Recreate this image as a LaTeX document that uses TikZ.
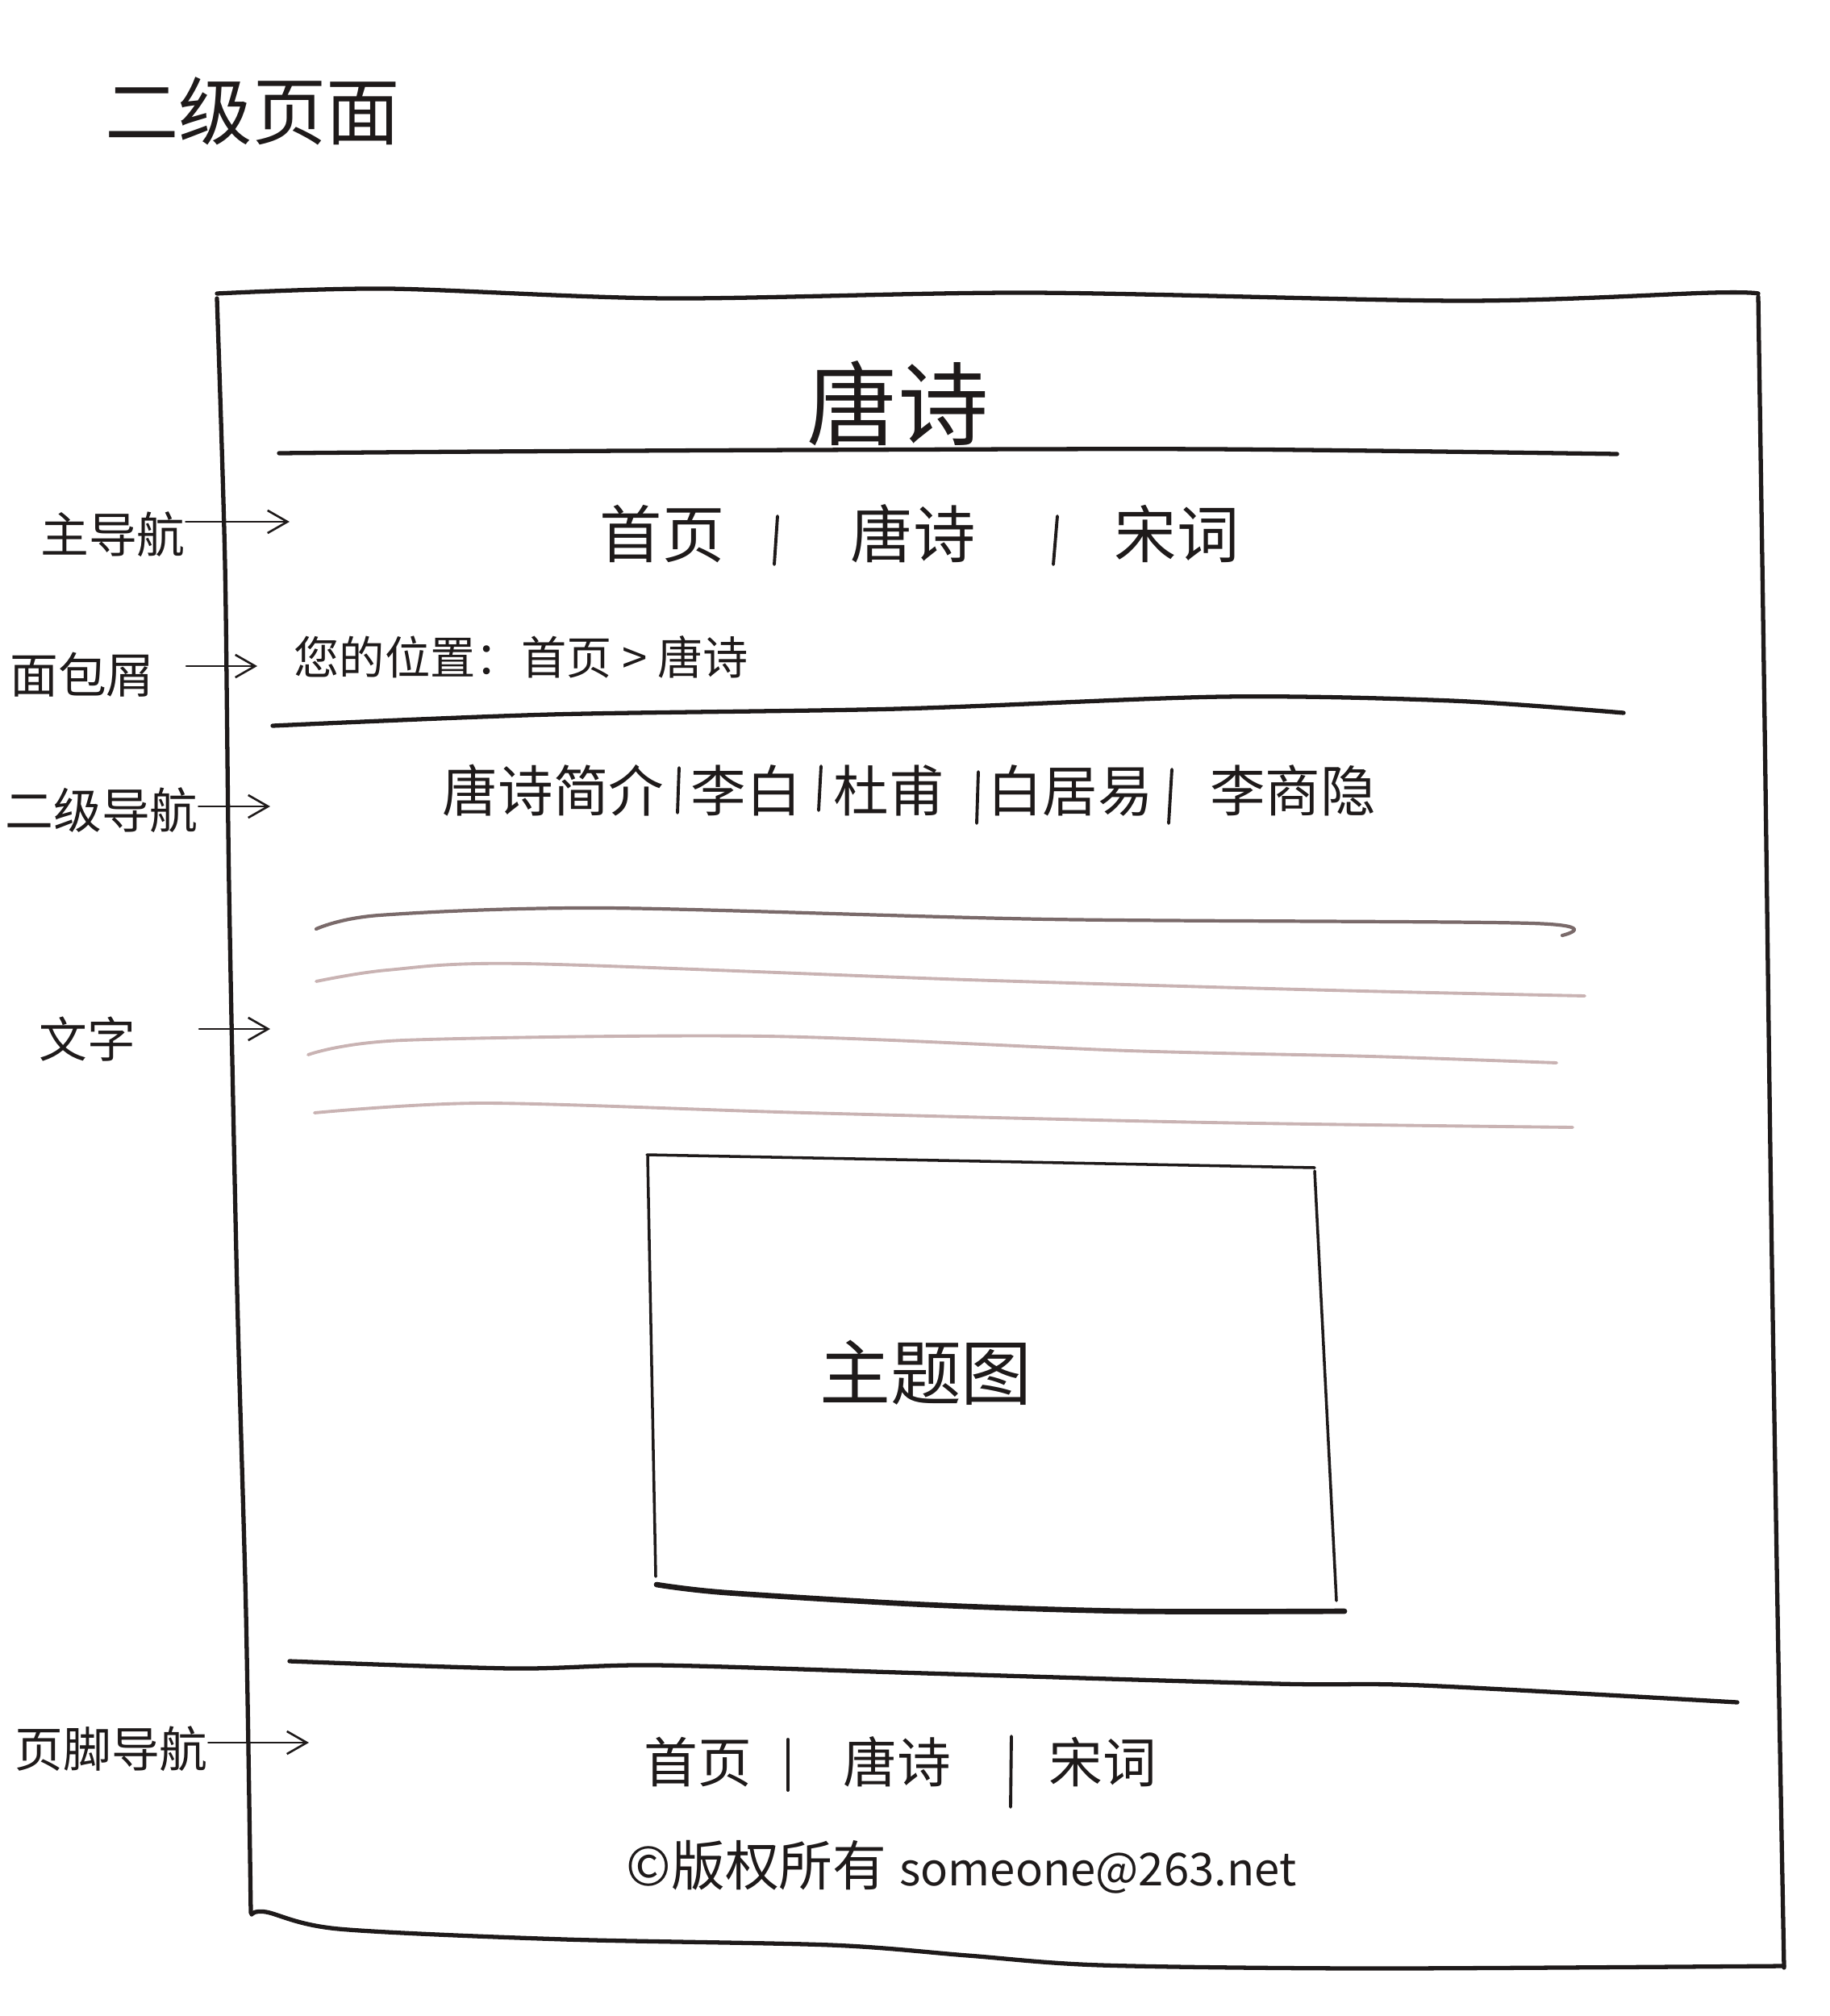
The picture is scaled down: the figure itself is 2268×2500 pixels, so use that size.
\documentclass[tikz,border=0pt]{standalone}
\usepackage{fontspec}
\setmainfont{Noto Sans CJK SC}
\usetikzlibrary{arrows.meta}
\definecolor{inkc}{HTML}{1E1A1A}
\definecolor{faintc}{HTML}{C9B3B3}
\definecolor{midc}{HTML}{7A6A6A}
\begin{document}
\begin{tikzpicture}[x=0.01cm,y=-0.01cm,
  ink/.style={draw=inkc, line width=1.5pt, line cap=round, line join=round},
  thinink/.style={draw=inkc, line width=0.75pt, line cap=round, line join=round},
  arr/.style={thinink, -{Straight Barb[length=7pt,width=8pt]}},
  sepbar/.style={draw=inkc, line width=1.1pt, line cap=round},
  faintline/.style={draw=faintc, line width=1.1pt, line cap=round},
  midline/.style={draw=midc, line width=1.2pt, line cap=round},
  txt/.style={inner sep=0pt, text=inkc},
  lbl/.style={txt, font=\fontsize{17}{20}\selectfont},
  navA/.style={txt, font=\fontsize{22}{26}\selectfont},
  navB/.style={txt, font=\fontsize{19.5}{23}\selectfont},
  navC/.style={txt, font=\fontsize{19}{22}\selectfont}]
\useasboundingbox[fill=white] (0,0) rectangle (2268,2500);

% page title
\node[txt, font=\fontsize{26}{30}\selectfont] (title) at (313,138) {二级页面};

% outer frame
\draw[ink] plot[smooth] coordinates {(269,364) (481,358) (827,370) (1276,363) (1814,373) (2122,363) (2180,364)};
\draw[ink] plot[smooth] coordinates {(269,370) (279,700) (284,1100) (294,1600) (305,2000) (311,2372)};
\draw[ink] plot[smooth] coordinates {(2180,368) (2188,900) (2196,1500) (2204,2000) (2212,2440)};
\draw[ink] plot[smooth] coordinates {(312,2374) (330,2371) (420,2392) (700,2405) (1030,2412) (1200,2425) (1365,2437) (1700,2441) (2212,2438)};

% header
\node[txt, font=\fontsize{32}{36}\selectfont] (site) at (1113,500) {唐诗};
\draw[ink] plot[smooth] coordinates {(346,562) (600,560) (1000,558) (1500,557) (2005,563)};

% main navigation
\node[navA] (nav1) at (821,662) {首页};
\draw[sepbar] (964,640) -- (960,700);
\node[navA] (nav2) at (1132,662) {唐诗};
\draw[sepbar] (1311,640) -- (1306,700);
\node[navA] (nav3) at (1459,662) {宋词};

% breadcrumb
\node[txt, anchor=west, font=\fontsize{16}{19}\selectfont] (crumb) at (364,815) {您的位置：首页 > 唐诗};
\draw[ink] plot[smooth] coordinates {(338,900) (683,886) (1113,879) (1515,864) (1800,869) (2013,884)};

% secondary navigation
\node[navB] (sub1) at (686,980) {唐诗简介};
\draw[sepbar] (842,952) -- (840,1008);
\node[navB] (sub2) at (925,980) {李白};
\draw[sepbar] (1018,950) -- (1015,1005);
\node[navB] (sub3) at (1102,980) {杜甫};
\draw[sepbar] (1213,957) -- (1211,1021);
\node[navB] (sub4) at (1327,980) {白居易};
\draw[sepbar] (1453,954) -- (1449,1021);
\node[navB] (sub5) at (1603,980) {李商隐};

% text lines
\draw[midline] plot[smooth] coordinates {(392,1152) (470,1135) (750,1126) (1300,1140) (1900,1145) (1937,1160)};
\draw[faintline] plot[smooth] coordinates {(392,1217) (480,1203) (650,1195) (1200,1215) (1650,1228) (1965,1235)};
\draw[faintline] plot[smooth] coordinates {(382,1308) (500,1290) (950,1285) (1400,1303) (1700,1310) (1930,1318)};
\draw[faintline] plot[smooth] coordinates {(390,1380) (600,1368) (1000,1380) (1500,1392) (1950,1398)};

% theme picture box
\draw[thinink, line width=1pt] (802,1432) -- (1630,1448);
\draw[thinink, line width=1pt] (803,1434) -- (813,1955);
\draw[thinink, line width=1pt] (1630,1452) -- (1657,1985);
\draw[ink, line width=1.9pt] plot[smooth] coordinates {(814,1965) (900,1975) (1150,1990) (1400,1998) (1667,1998)};
\node[txt, font=\fontsize{25}{29}\selectfont] (pic) at (1148,1702) {主题图};

% footer line
\draw[ink] plot[smooth] coordinates {(359,2060) (635,2069) (814,2065) (1147,2075) (1583,2088) (1763,2090) (2154,2111)};

% footer navigation
\node[navC] (foot1) at (865,2185) {首页};
\draw[sepbar] (977,2157) -- (977,2220);
\node[navC] (foot2) at (1112,2185) {唐诗};
\draw[sepbar] (1254,2153) -- (1253,2241);
\node[navC] (foot3) at (1367,2185) {宋词};
\node[txt, anchor=west] (copy) at (776,2315) {{\fontsize{19}{22}\selectfont ©版权所有}\hspace{0.45em}{\fontsize{16}{20}\selectfont someone@263.net}};

% side labels and arrows
\node[lbl] (lblA) at (140,663) {主导航};
\coordinate (aA) at (359,647);
\draw[arr] (lblA.east |- aA) -- (aA);

\node[lbl] (lblB) at (102,837) {面包屑};
\coordinate (aB) at (319,826);
\draw[arr] (231,826) -- (aB);

\node[lbl] (lblC) at (126,1005) {二级导航};
\coordinate (aC) at (335,1000);
\draw[arr] (lblC.east |- aC) -- (aC);

\node[lbl] (lblD) at (108,1289) {文字};
\coordinate (aD) at (335,1276);
\draw[arr] (247,1276) -- (aD);

\node[lbl] (lblE) at (138,2169) {页脚导航};
\coordinate (aE) at (383,2161);
\draw[arr] (lblE.east |- aE) -- (aE);
\end{tikzpicture}
\end{document}
